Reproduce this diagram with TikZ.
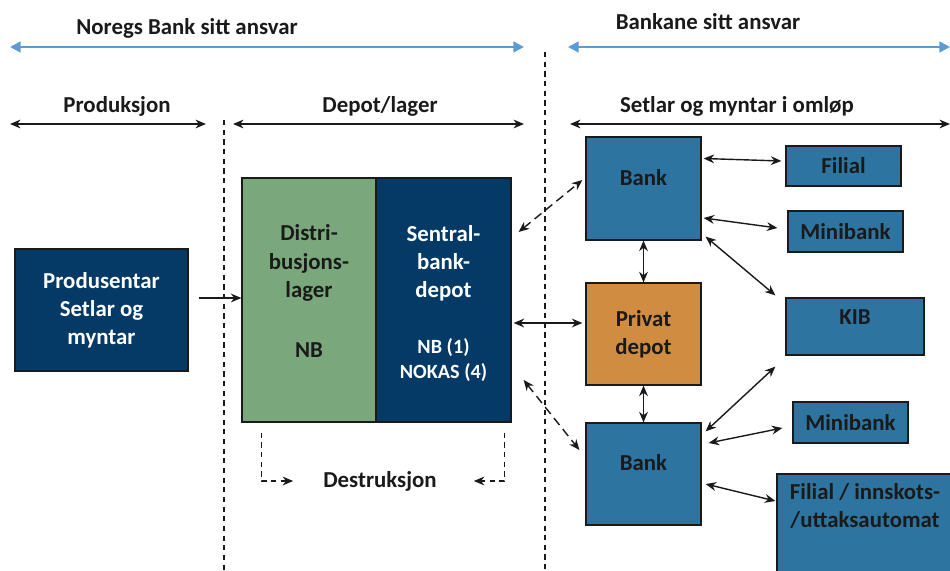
\documentclass[tikz,border=0pt]{standalone}
\usepackage{fontspec}
\setmainfont{Carlito}
\usetikzlibrary{arrows.meta,calc}

\definecolor{navy}{HTML}{053A66}
\definecolor{steel}{HTML}{2E74A0}
\definecolor{sage}{HTML}{7BA77D}
\definecolor{ochre}{HTML}{D08D42}
\definecolor{sky}{HTML}{5B9BD5}
\definecolor{ink}{HTML}{1A1A1A}

\tikzset{
	box/.style 2 args={draw=ink, line width=0.7pt, minimum width=#1*0.02cm,
		minimum height=#2*0.02cm, inner sep=0pt},
	txt/.style={font=\bfseries\fontsize{13}{16}\selectfont, text=ink, align=center},
	small/.style={font=\bfseries\fontsize{11.5}{14}\selectfont, align=center},
	span/.style={{Stealth[length=6pt,width=5pt]}-{Stealth[length=6pt,width=5pt]}, line width=0.9pt, ink},
	scopearr/.style={{Triangle[length=6pt,width=6pt]}-{Triangle[length=6pt,width=6pt]}, line width=1.6pt, sky},
	link/.style={{Stealth[length=6pt,width=5pt]}-{Stealth[length=6pt,width=5pt]}, line width=0.8pt, ink},
	dashlink/.style={link, dash pattern=on 5pt off 3pt},
	fence/.style={ink, line width=0.6pt, dash pattern=on 3pt off 2.5pt},
}

\begin{document}
\begin{tikzpicture}[x=0.02cm, y=-0.02cm]

% frame %{{{1

	\clip (0,0) rectangle (950,571);

% responsibility spans %{{{1

	\node[txt] (nbhead) at (187,28) {Noregs Bank sitt ansvar};
	\node[txt] (bkhead) at (708,22) {Bankane sitt ansvar};

	\coordinate (nbL) at (10,47);
	\coordinate (nbR) at (524,47);
	\coordinate (bkL) at (568,47);
	\coordinate (bkR) at (950,47);

	\draw[scopearr] (nbL) -- (nbR);
	\draw[scopearr] (bkL) -- (bkR);

% phase spans %{{{1

	\node[txt] (prodhead) at (117,106) {Produksjon};
	\node[txt] (depothead) at (380,106) {Depot/lager};
	\node[txt] (omlophead) at (737,106) {Setlar og myntar i omløp};

	\coordinate (prL) at (10,124);
	\coordinate (prR) at (206,124);
	\coordinate (deL) at (233,124);
	\coordinate (deR) at (524,124);
	\coordinate (omL) at (570,124);
	\coordinate (omR) at (950,124);

	\draw[span] (prL) -- (prR);
	\draw[span] (deL) -- (deR);
	\draw[span] (omL) -- (omR);

% borders %{{{1

	\draw[fence] (224,120) -- (224,571);
	\draw[fence] (545,52) -- (545,571);

% boxes %{{{1

	\node[box={173}{122}, fill=navy, txt, text=white] (prod) at (101.5,310)
		{Produsentar\\Setlar og\\myntar};

	\node[box={134}{244}, fill=sage] (distri) at (309,300) {};
	\node[box={135}{244}, fill=navy] (sentral) at (443.5,300) {};

	\node[box={115}{103}, fill=steel] (bankA) at (643.5,188.5) {};
	\node[box={115}{102}, fill=ochre, txt] (privat) at (643.5,334) {Privat\\depot};
	\node[box={115}{102}, fill=steel] (bankB) at (643.5,474) {};

	\node[box={115}{40}, fill=steel, txt] (filialA) at (843.5,166) {Filial};
	\node[box={115}{41}, fill=steel, txt] (miniA) at (845.5,231.5) {Minibank};
	\node[box={138}{57}, fill=steel] (kib) at (855,326.5) {};
	\node[box={115}{41}, fill=steel, txt] (miniB) at (850.5,422.5) {Minibank};
	\node[box={182}{106}, fill=steel] (filialB) at (868,527) {};

% box labels %{{{1

	\node[txt] (distri-t) at (309,263) {Distri-\\busjons-\\lager};
	\node[txt, text=ink] (distri-nb) at (309,350) {NB};
	\node[txt, text=white] (sentral-t) at (443.5,263) {Sentral-\\bank-\\depot};
	\node[small, text=white] (sentral-nb) at (443.5,360) {NB (1)\\NOKAS (4)};

	\node[txt] (bankA-t) at (643.5,178) {Bank};
	\node[txt] (bankB-t) at (643.5,463) {Bank};
	\node[txt] (kib-t) at (855,317) {KIB};
	\node[txt] (filialB-t) at (865,506) {Filial / innskots-\\/uttaksautomat};

% destruction %{{{1

	\node[txt] (destr) at (380,481) {Destruksjon};

	\draw[fence, -{Stealth[length=6pt,width=5pt]}]
		([shift={(20,10)}]distri.south west) |- ([shift={(-24,0)}]destr.west);
	\draw[fence, -{Stealth[length=6pt,width=5pt]}]
		([shift={(-7,10)}]sentral.south east) |- ([shift={(31,0)}]destr.east);

% connectors %{{{1

	\draw[-{Stealth[length=6pt,width=5pt]}, line width=0.8pt, ink]
		([shift={(10,-12)}]prod.east) -- ([shift={(0,-2)}]distri.west);

	\draw[dashlink] ([shift={(7,-68)}]sentral.east) -- ([shift={(-3,-8.5)}]bankA.west);
	\draw[link] ([shift={(2,23)}]sentral.east) -- ([shift={(-3,-11)}]privat.west);
	\draw[dashlink] ([shift={(12,80)}]sentral.east) -- ([shift={(-6,-24)}]bankB.west);

	\draw[link] ([shift={(2,-30)}]bankA.east) -- ([shift={(-4,-5)}]filialA.west);
	\draw[link] ([shift={(2,29.5)}]bankA.east) -- ([shift={(-10,-3.5)}]miniA.west);
	\draw[link] ([shift={(4,-4)}]bankA.south east) -- ([shift={(-10,-2)}]kib.north west);

	\draw[link] (bankA.south) -- (privat.north);
	\draw[link] (privat.south) -- (bankB.north);

	\draw[link] ([shift={(4,9)}]bankB.north east) -- ([shift={(-10,11)}]kib.south west);
	\draw[link] ([shift={(7,-31)}]bankB.east) -- ([shift={(-10,5.5)}]miniB.west);
	\draw[link] ([shift={(4,10)}]bankB.east) -- ([shift={(-1,-26)}]filialB.west);

% closing %{{{1

\end{tikzpicture}
\end{document}
